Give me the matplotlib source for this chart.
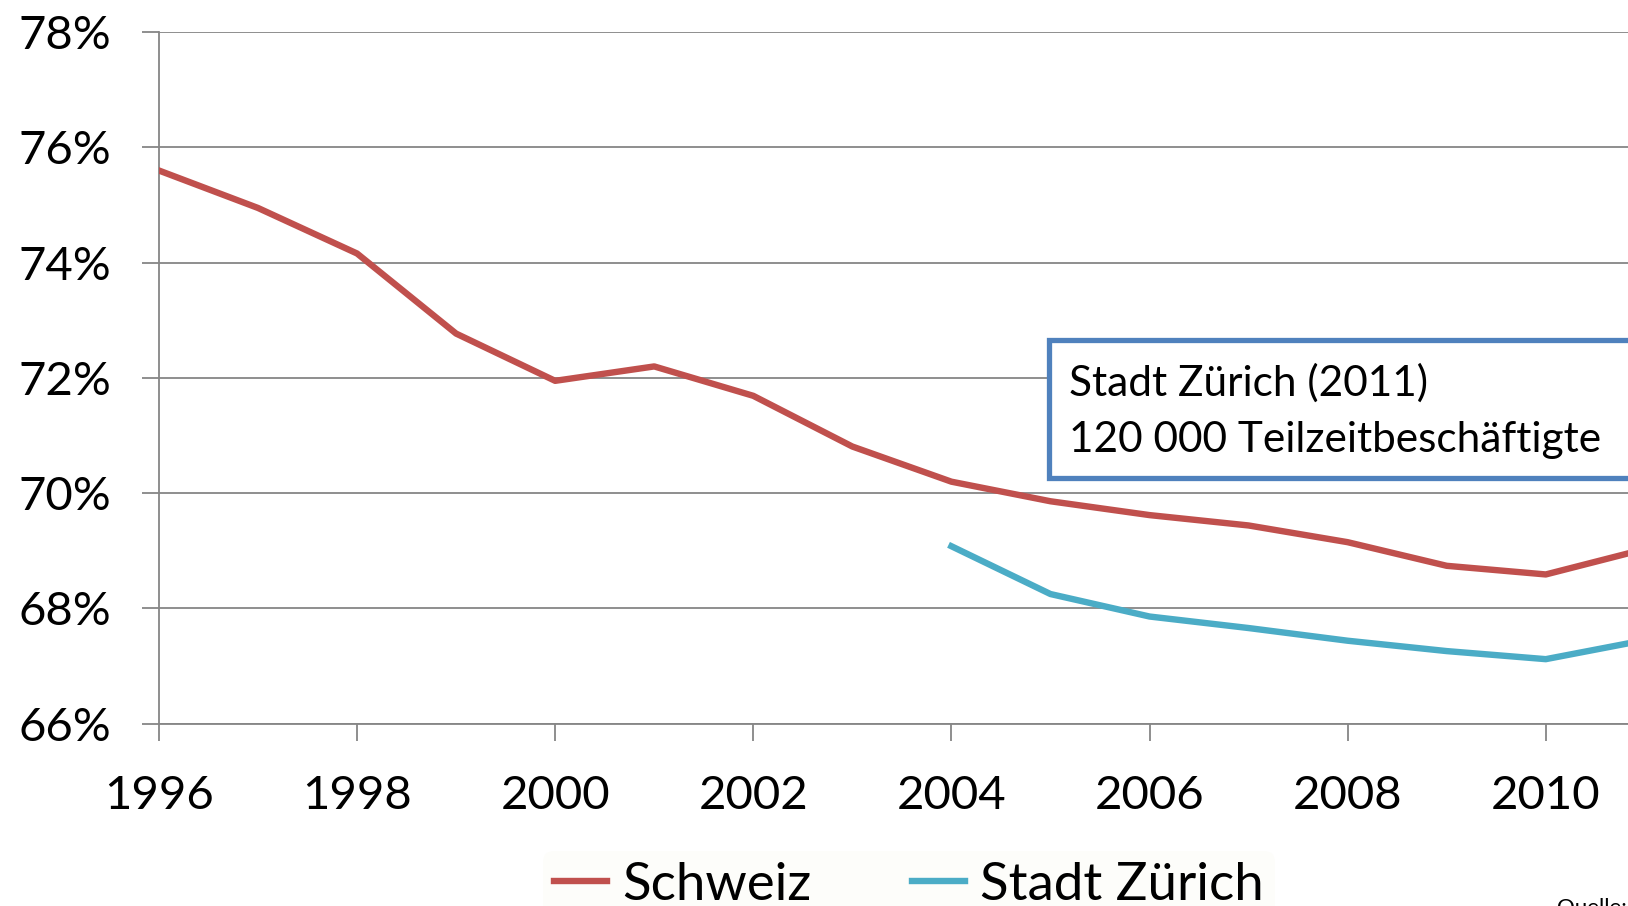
import matplotlib
matplotlib.use('Agg')
import matplotlib.pyplot as plt
from matplotlib.patches import Rectangle
from matplotlib.ticker import FuncFormatter

plt.rcParams['font.family'] = ['Lato', 'DejaVu Sans']

# Anteil Vollzeit / Teilzeit
years_ch = list(range(1996, 2012))
schweiz = [75.60, 74.95, 74.16, 72.77, 71.95, 72.20, 71.69, 70.81,
           70.20, 69.86, 69.62, 69.44, 69.15, 68.74, 68.59, 69.03]
years_zh = list(range(2004, 2012))
zuerich = [69.08, 68.25, 67.86, 67.66, 67.44, 67.26, 67.12, 67.45]

xticks = list(range(1996, 2011, 2))
yticks = list(range(66, 79, 2))

red = '#C0504D'
teal = '#4BACC6'
grey = '#868686'

W, H = 1628, 906
fig = plt.figure(figsize=(W / 100, H / 100), dpi=100)
fig.patch.set_facecolor('white')

left, bottom, top = 158.9 / W, 1 - 723.7 / H, 1 - 32.2 / H
ax = fig.add_axes([left, bottom, 1 - left, top - bottom])

l1, = ax.plot(years_ch, schweiz, color=red, lw=4.6, solid_joinstyle='round', label='Schweiz', zorder=3)
l2, = ax.plot(years_zh, zuerich, color=teal, lw=4.6, solid_joinstyle='round', label='Stadt Zürich', zorder=3)

ax.set_xlim(1996, 2010.83)
ax.set_ylim(66, 78)
ax.set_xticks(xticks)
ax.set_yticks(yticks)
ax.yaxis.set_major_formatter(FuncFormatter(lambda v, p: f'{int(v)}%'))
ax.grid(axis='y', color=grey, lw=1.3)
ax.set_axisbelow(True)
for s in ['top', 'right']:
    ax.spines[s].set_visible(False)
for s in ['left', 'bottom']:
    ax.spines[s].set_color(grey)
    ax.spines[s].set_linewidth(1.3)
ax.tick_params(axis='both', direction='out', length=12, width=1.3, color=grey,
               labelsize=34)
ax.tick_params(axis='x', pad=25)
ax.tick_params(axis='y', pad=22)

# Textbox
fig.add_artist(Rectangle((1048.7 / W, 1 - 477.6 / H), 700 / W, 138 / H,
                         transform=fig.transFigure, facecolor='white',
                         edgecolor='#4F81BD', lw=3.8, zorder=5))
fig.text(1069 / W, 1 - 383 / H, 'Stadt Zürich (2011)', fontsize=30.5,
         va='center', ha='left', zorder=6)
fig.text(1069 / W, 1 - 440 / H, '120 000 Teilzeitbeschäftigte', fontsize=30.5,
         va='center', ha='left', zorder=6)

leg = fig.legend(handles=[l1, l2], loc='center', bbox_to_anchor=(909 / W, 1 - 885 / H),
                 ncol=2, fontsize=38, frameon=True, handlelength=1.0,
                 handletextpad=0.3, columnspacing=1.9, borderpad=0.2)
leg.get_frame().set_facecolor('#FDFDF9')
leg.get_frame().set_edgecolor('none')

fig.text(1557 / W, 1 - 898 / H, 'Quelle:', fontsize=16, va='top', ha='left')

fig.savefig('out.png', dpi=100)
